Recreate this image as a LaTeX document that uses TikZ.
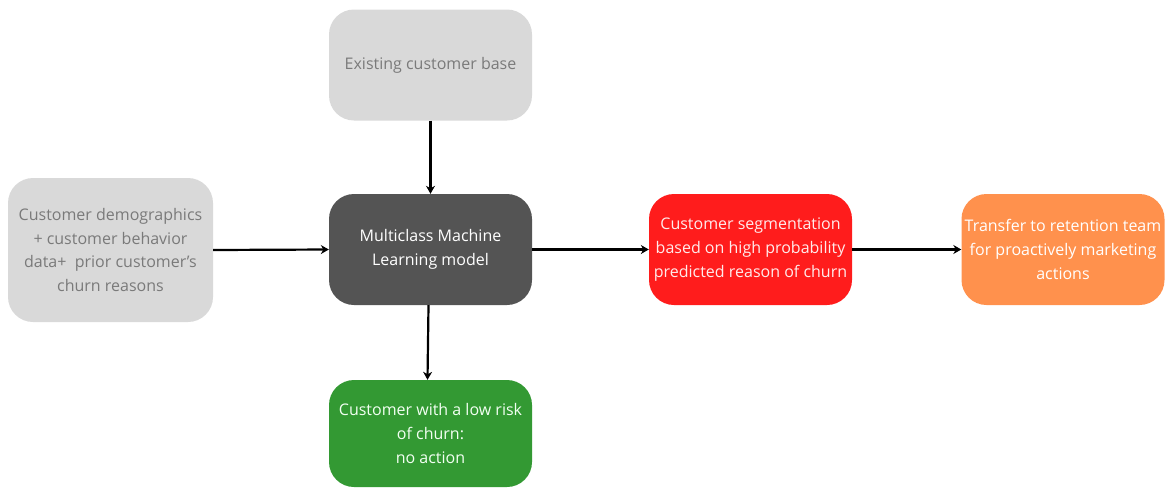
\documentclass[tikz,border=0pt]{standalone}
\usepackage{fontspec}
\setmainfont{Open Sans}
\usetikzlibrary{arrows.meta}
\definecolor{lgrey}{HTML}{D9D9D9}
\definecolor{lgtext}{HTML}{7A7A7A}
\definecolor{dgrey}{HTML}{545454}
\definecolor{bred}{HTML}{FF1C1C}
\definecolor{borange}{HTML}{FF914D}
\definecolor{bgreen}{HTML}{339933}
\tikzset{
  box/.style={rounded corners=25pt, minimum width=203pt, minimum height=111pt, align=center,
    font=\fontsize{16}{23.7}\selectfont, inner sep=1pt},
  conn/.style={-{Stealth[length=8pt,width=9pt]}, line width=2.2pt, black},
}
\begin{document}
\begin{tikzpicture}[x=1pt,y=-1pt]
\useasboundingbox (0,0) rectangle (1166,488);
\node[box, fill=lgrey, text=lgtext] (base) at (430.5,65) {Existing customer base};
\node[box, fill=lgrey, text=lgtext, minimum width=205pt, minimum height=144pt] (data) at (110.5,250)
  {Customer demographics\\+ customer behavior\\data+\ \ prior customer’s\\churn reasons};
\node[box, fill=dgrey, text=white] (ml) at (430.5,249.5) {Multiclass Machine\\Learning model};
\node[box, fill=bred, text=white!92!red] (seg) at (750.5,249.5)
  {Customer segmentation\\based on high probability\\predicted reason of churn};
\node[box, fill=borange, text=white] (ret) at (1063,249.5)
  {Transfer to retention team\\for proactively marketing\\actions};
\node[box, fill=bgreen, text=white!95!green, minimum height=107pt] (low) at (430.5,433.5)
  {Customer with a low risk\\of churn:\\no action};
\draw[conn] (base.south) -- (ml.north);
\draw[conn] (data.east) -- (ml.west);
\draw[conn] (ml.east) -- (seg.west);
\draw[conn] (seg.east) -- (ret.west);
\draw[conn] ([xshift=-2pt]ml.south) -- ([xshift=-3pt]low.north);
\end{tikzpicture}
\end{document}
